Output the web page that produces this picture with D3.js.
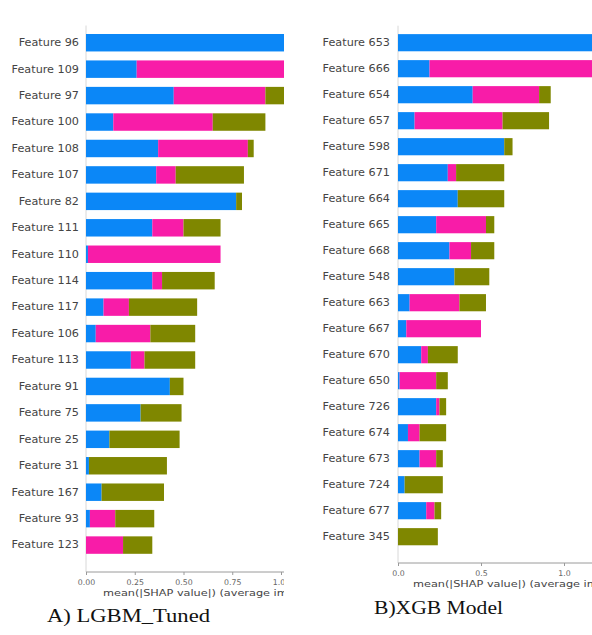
<!DOCTYPE html>
<html>
<head>
<meta charset="utf-8">
<script src="https://cdn.jsdelivr.net/npm/d3@7"></script>
<style>
  html, body { margin: 0; padding: 0; background: #fff; }
  svg { display: block; }
</style>
</head>
<body>
<svg id="chart" width="592" height="635"></svg>
<script>
// Per-class mean |SHAP| contributions, stacked per feature (class 0, class 1, class 2)
const classColors = ["#0b87f7", "#f81ca8", "#7f8700"];

// LGBM_Tuned
const lgbmFeatures = ["Feature 96", "Feature 109", "Feature 97", "Feature 100", "Feature 108",
  "Feature 107", "Feature 82", "Feature 111", "Feature 110", "Feature 114", "Feature 117",
  "Feature 106", "Feature 113", "Feature 91", "Feature 75", "Feature 25", "Feature 31",
  "Feature 167", "Feature 93", "Feature 123"];
const lgbmClass0 = [1.35, 0.26, 0.45, 0.14, 0.37, 0.36, 0.77, 0.34, 0.01, 0.34, 0.09, 0.05, 0.23, 0.43, 0.28, 0.12, 0.015, 0.08, 0.02, 0.0];
const lgbmClass1 = [0.0, 1.00, 0.47, 0.51, 0.46, 0.10, 0.0, 0.16, 0.68, 0.05, 0.13, 0.28, 0.07, 0.0, 0.0, 0.0, 0.0, 0.0, 0.13, 0.19];
const lgbmClass2 = [0.0, 0.0, 0.15, 0.27, 0.03, 0.35, 0.03, 0.19, 0.0, 0.27, 0.35, 0.23, 0.26, 0.07, 0.21, 0.36, 0.40, 0.32, 0.20, 0.15];
const lgbmTicks = [0, 0.25, 0.5, 0.75, 1.0];

// XGB Model
const xgbFeatures = ["Feature 653", "Feature 666", "Feature 654", "Feature 657", "Feature 598",
  "Feature 671", "Feature 664", "Feature 665", "Feature 668", "Feature 548", "Feature 663",
  "Feature 667", "Feature 670", "Feature 650", "Feature 726", "Feature 674", "Feature 673",
  "Feature 724", "Feature 677", "Feature 345"];
const xgbClass0 = [1.50, 0.19, 0.45, 0.10, 0.64, 0.30, 0.36, 0.23, 0.31, 0.34, 0.07, 0.05, 0.14, 0.01, 0.23, 0.06, 0.13, 0.04, 0.17, 0.0];
const xgbClass1 = [0.0, 1.20, 0.40, 0.53, 0.0, 0.05, 0.0, 0.30, 0.13, 0.0, 0.30, 0.45, 0.04, 0.22, 0.02, 0.07, 0.10, 0.0, 0.05, 0.0];
const xgbClass2 = [0.0, 0.0, 0.07, 0.28, 0.05, 0.29, 0.28, 0.05, 0.14, 0.21, 0.16, 0.0, 0.18, 0.07, 0.04, 0.16, 0.04, 0.23, 0.04, 0.24];
const xgbTicks = [0, 0.5, 1.0];

const axisTitle = "mean(|SHAP value|) (average impact on model output magnitude)";

const svg = d3.select("#chart");
const stretch = 1.17; // labels are drawn slightly wide

function drawPanel(cfg) {
  const rows = cfg.features.map((f, i) => ({
    feature: f, c0: cfg.c0[i], c1: cfg.c1[i], c2: cfg.c2[i]
  }));
  const stack = d3.stack().keys(["c0", "c1", "c2"])(rows);

  const x = d3.scaleLinear().domain([0, 1]).range([cfg.x0, cfg.x0 + cfg.unit]);
  const y = d3.scaleBand().domain(cfg.features)
    .range([cfg.yTop, cfg.yTop + cfg.step * cfg.features.length])
    .paddingInner(0.34).paddingOuter(0.17);

  const clipId = "clip-" + cfg.id;
  svg.append("defs").append("clipPath").attr("id", clipId)
    .append("rect").attr("x", 0).attr("y", 0)
    .attr("width", cfg.clipRight).attr("height", 635);

  const g = svg.append("g").attr("clip-path", `url(#${clipId})`);

  // faint zero line
  g.append("line")
    .attr("x1", x(0)).attr("x2", x(0))
    .attr("y1", cfg.yTop - 4).attr("y2", cfg.axisY)
    .attr("stroke", "#d8d8d8").attr("stroke-width", 1);

  // stacked bars
  g.selectAll("g.layer").data(stack).join("g")
    .attr("class", "layer")
    .attr("fill", (d, i) => classColors[i])
    .selectAll("rect").data(d => d).join("rect")
    .attr("x", d => x(d[0]))
    .attr("y", d => y(d.data.feature))
    .attr("width", d => Math.max(0, x(d[1]) - x(d[0])))
    .attr("height", y.bandwidth());

  // feature labels
  g.selectAll("text.feat").data(cfg.features).join("text")
    .attr("class", "feat")
    .attr("transform", d => `translate(${cfg.labelRight},${y(d) + y.bandwidth() / 2}) scale(${stretch},1)`)
    .attr("dy", "0.35em")
    .attr("text-anchor", "end")
    .attr("font-family", "DejaVu Sans, sans-serif")
    .attr("font-size", "9.6px")
    .attr("fill", "#444")
    .text(d => d);

  // bottom axis
  const axis = d3.axisBottom(x).tickValues(cfg.ticks)
    .tickFormat(d3.format(cfg.fmt)).tickSize(3).tickSizeOuter(0);
  const ag = g.append("g").attr("transform", `translate(0,${cfg.axisY})`).call(axis);
  ag.select(".domain").attr("stroke", "#9a9a9a").attr("d", `M${x(0)},0H${cfg.clipRight + 40}`);
  ag.selectAll(".tick line").attr("stroke", "#9a9a9a");
  ag.selectAll(".tick text")
    .attr("font-family", "DejaVu Sans, sans-serif")
    .attr("font-size", "7.8px")
    .attr("fill", "#666")
    .attr("y", 7);

  g.append("text")
    .attr("transform", `translate(${cfg.titleX},${cfg.axisY + 24}) scale(1.2,1)`)
    .attr("font-family", "DejaVu Sans, sans-serif")
    .attr("font-size", "9.4px")
    .attr("fill", "#444")
    .text(axisTitle);

  svg.append("text")
    .attr("x", cfg.capX).attr("y", cfg.capY)
    .attr("font-family", "Liberation Serif, DejaVu Serif, serif")
    .attr("font-size", "19px")
    .attr("fill", "#111")
    .attr("textLength", cfg.capLen)
    .attr("lengthAdjust", "spacingAndGlyphs")
    .text(cfg.caption);
}

drawPanel({
  id: "lgbm", features: lgbmFeatures, c0: lgbmClass0, c1: lgbmClass1, c2: lgbmClass2,
  ticks: lgbmTicks, fmt: ".2f", x0: 86, unit: 195, yTop: 29.5, step: 26.44,
  clipRight: 284, labelRight: 79, axisY: 572, titleX: 103,
  caption: "A) LGBM_Tuned", capX: 47, capY: 622, capLen: 163
});

drawPanel({
  id: "xgb", features: xgbFeatures, c0: xgbClass0, c1: xgbClass1, c2: xgbClass2,
  ticks: xgbTicks, fmt: ".1f", x0: 398, unit: 166, yTop: 29.7, step: 26.0,
  clipRight: 592, labelRight: 390, axisY: 563, titleX: 413,
  caption: "B)XGB Model", capX: 374, capY: 614, capLen: 129
});
</script>
</body>
</html>
